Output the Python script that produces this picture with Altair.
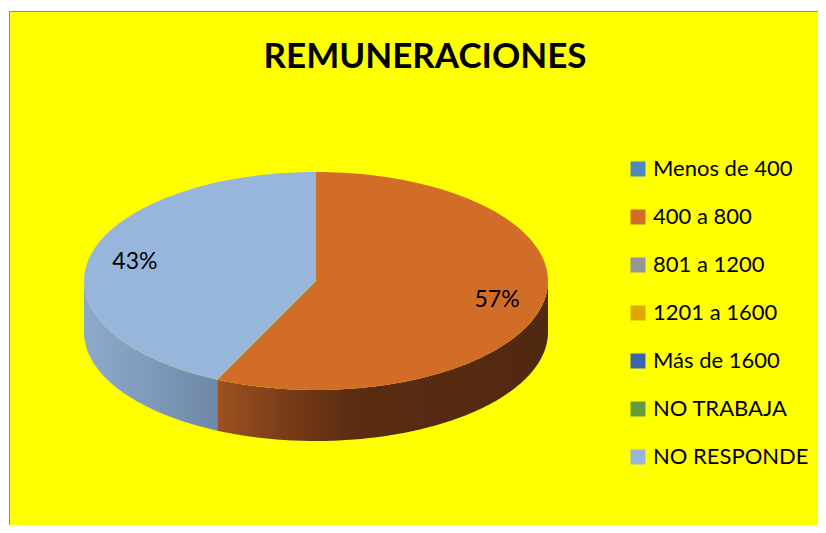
import altair as alt
import pandas as pd

# ---- data ----
CATEGORIAS = ["Menos de 400", "400 a 800", "801 a 1200", "1201 a 1600",
              "Más de 1600", "NO TRABAJA", "NO RESPONDE"]
VALORES = [0, 57, 0, 0, 0, 0, 43]
COLORES = ["#4f89c1", "#d26d27", "#969696", "#dfa800",
           "#3b63ae", "#649b3b", "#98b6dc"]
TITULO = "REMUNERACIONES"

# side (3D wall) shading per category: light end -> dark end
LADO_STOPS = {
    "400 a 800": [(0.0, "#9e511f"), (0.2, "#7a3d18"), (0.42, "#5a2c12"), (1.0, "#512810")],
    "NO RESPONDE": [(0.0, "#8eaaca"), (1.0, "#6f88a8")],
}

# ---- layout ----
W, H = 809, 514
CX, CY, RX, RY, DEPTH = 307, 244, 232, 109, 51
N = 120
F_LABEL = 0.8
FONT = "Lato"

df = pd.DataFrame({"categoria": CATEGORIAS, "valor": VALORES,
                   "orden": list(range(len(CATEGORIAS)))})

SX = alt.Scale(domain=[0, W], nice=False, zero=False)
SY = alt.Scale(domain=[0, H], nice=False, zero=False)

base = (
    alt.Chart(df)
    .transform_window(cum="sum(valor)", sort=[alt.SortField("orden")], frame=[None, 0])
    .transform_joinaggregate(total="sum(valor)")
    .transform_calculate(a0="2*PI*(datum.cum - datum.valor)/datum.total")
    .transform_calculate(a1="2*PI*datum.cum/datum.total")
    .transform_filter("datum.valor > 0")
)

# top faces
top = (
    base.transform_calculate(steps=f"sequence(0, {N + 2})")
    .transform_flatten(["steps"], as_=["s"])
    .transform_calculate(ang=f"datum.a0 + (datum.a1 - datum.a0) * min(datum.s, {N}) / {N}")
    .transform_calculate(px=f"datum.s > {N} ? {CX} : {CX} + {RX} * sin(datum.ang)")
    .transform_calculate(py=f"datum.s > {N} ? {CY} : {CY} + {RY} * cos(datum.ang)")
    .mark_line(filled=True, interpolate="linear-closed", strokeWidth=0)
    .encode(
        x=alt.X("px:Q", scale=SX, axis=None),
        y=alt.Y("py:Q", scale=SY, axis=None),
        color=alt.Color("categoria:N",
                        scale=alt.Scale(domain=CATEGORIAS, range=COLORES),
                        sort=CATEGORIAS,
                        legend=alt.Legend(title=None, orient="none",
                                          legendX=618, legendY=147,
                                          symbolType="square", symbolSize=225,
                                          symbolStrokeWidth=0, symbolOpacity=1,
                                          labelFont=FONT, labelFontSize=22,
                                          labelColor="black", labelOffset=4,
                                          labelLimit=300, rowPadding=26)),
        order=alt.Order("s:Q"),
        detail="categoria:N",
    )
)

# side walls (front half only)
sides = []
for cat in CATEGORIAS:
    if cat not in LADO_STOPS:
        continue
    grad = {"gradient": "linear", "x1": 0, "y1": 0, "x2": 1, "y2": 0,
            "stops": [{"offset": o, "color": c} for o, c in LADO_STOPS[cat]]}
    side = (
        base.transform_filter(alt.datum.categoria == cat)
        .transform_calculate(b0="max(datum.a0, PI/2)")
        .transform_calculate(b1="min(datum.a1, 3*PI/2)")
        .transform_filter("datum.b1 > datum.b0")
        .transform_calculate(steps=f"sequence(0, {2 * N + 2})")
        .transform_flatten(["steps"], as_=["s"])
        .transform_calculate(
            ang=f"datum.s <= {N} ? datum.b0 + (datum.b1 - datum.b0) * datum.s / {N}"
                f" : datum.b1 - (datum.b1 - datum.b0) * (datum.s - {N} - 1) / {N}")
        .transform_calculate(px=f"{CX} + {RX} * sin(datum.ang)")
        .transform_calculate(py=f"{CY} + {RY} * cos(datum.ang) - (datum.s > {N} ? {DEPTH} : 0)")
        .mark_line(filled=True, interpolate="linear-closed", strokeWidth=0, fill=grad)
        .encode(
            x=alt.X("px:Q", scale=SX, axis=None),
            y=alt.Y("py:Q", scale=SY, axis=None),
            order=alt.Order("s:Q"),
        )
    )
    sides.append(side)

labels = (
    base.transform_calculate(mid="(datum.a0 + datum.a1)/2")
    .transform_calculate(lx=f"{CX} + {RX}*{F_LABEL}*sin(datum.mid)")
    .transform_calculate(ly=f"{CY} + {RY}*{F_LABEL}*cos(datum.mid)")
    .transform_calculate(pct="format(datum.valor/datum.total, '.0%')")
    .mark_text(font=FONT, fontSize=23, color="black")
    .encode(
        x=alt.X("lx:Q", scale=SX, axis=None),
        y=alt.Y("ly:Q", scale=SY, axis=None),
        text="pct:N",
    )
)

title = (
    alt.Chart(pd.DataFrame({"t": [TITULO]}))
    .mark_text(font=FONT, fontSize=35, fontWeight="bold", color="black",
               align="center", baseline="alphabetic")
    .encode(text="t:N", x=alt.value(416), y=alt.value(57))
)

chart = (
    alt.layer(*sides, top, labels, title)
    .properties(width=W, height=H,
                autosize=alt.AutoSizeParams(type="none"),
                padding={"left": 1, "top": 3, "right": 0, "bottom": 0})
    .configure(background="white")
    .configure_view(fill="#ffff00", stroke="#8c8c8c", strokeWidth=1)
)

chart.save("out.html", embed_options={"renderer": "svg", "actions": False})
